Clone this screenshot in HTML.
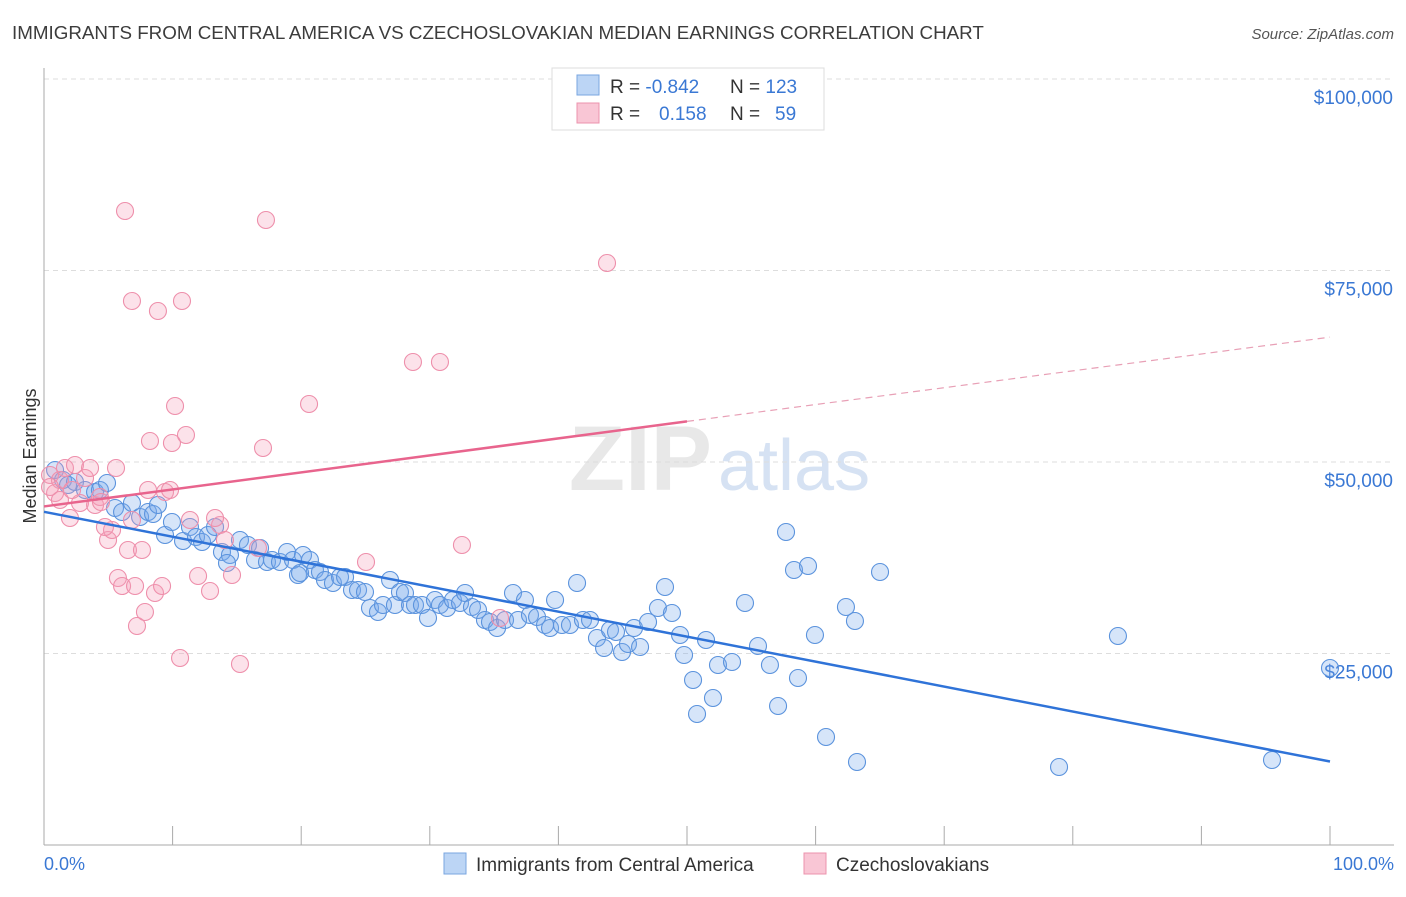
<!DOCTYPE html>
<html><head><meta charset="utf-8"><style>
body{margin:0;background:#fff;font-family:"Liberation Sans",sans-serif;}
svg text{font-family:"Liberation Sans",sans-serif;}
</style></head><body>
<svg width="1406" height="892">
<text x="12" y="39" font-size="18.8" fill="#3c3c3c">IMMIGRANTS FROM CENTRAL AMERICA VS CZECHOSLOVAKIAN MEDIAN EARNINGS CORRELATION CHART</text>
<text x="1394" y="39" font-size="15" fill="#555" font-style="italic" text-anchor="end">Source: ZipAtlas.com</text>
<text x="712" y="490" font-size="92" fill="#e8e8e8" font-family="Liberation Serif" font-weight="bold" text-anchor="end">ZIP</text>
<text x="718" y="490" font-size="72" fill="#d6e2f3">atlas</text>
<g id="grid"></g>
<line x1="44" y1="68" x2="44" y2="845" stroke="#aaa"/>
<line x1="44" y1="845" x2="1394" y2="845" stroke="#aaa"/>
<g id="xticks"></g>
<text x="36" y="456" font-size="18" fill="#333" transform="rotate(-90 36 456)" text-anchor="middle">Median Earnings</text>
<text x="44" y="870" font-size="18" fill="#3a78d4">0.0%</text>
<text x="1394" y="870" font-size="18" fill="#3a78d4" text-anchor="end">100.0%</text>
<g id="pts"></g>
<g id="lines"></g>
<g>
<rect x="552" y="68" width="272" height="62" fill="#fff" stroke="#ddd"/>
<rect x="577" y="75" width="22" height="20" fill="#bcd5f5" stroke="#7aa6e0"/>
<rect x="577" y="103" width="22" height="20" fill="#f9c6d5" stroke="#ec93ad"/>
<text x="610" y="93" font-size="19" fill="#333">R = <tspan fill="#3a78d4">-0.842</tspan><tspan x="730">N = </tspan><tspan fill="#3a78d4">123</tspan></text>
<text x="610" y="120" font-size="19" fill="#333">R = <tspan x="659" fill="#3a78d4">0.158</tspan><tspan x="730">N = </tspan><tspan x="775" fill="#3a78d4">59</tspan></text>
</g>
<g>
<rect x="444" y="853" width="22" height="21" fill="#bcd5f5" stroke="#7aa6e0"/>
<text x="476" y="871" font-size="19" fill="#333">Immigrants from Central America</text>
<rect x="804" y="853" width="22" height="21" fill="#f9c6d5" stroke="#ec93ad"/>
<text x="836" y="871" font-size="19" fill="#333">Czechoslovakians</text>
</g>
</svg>
<script>
const yTicks=[25000,50000,75000,100000];
const yTickLabels=["$25,000","$50,000","$75,000","$100,000"];
const bluePx=[[55,470],[63,480],[68,485],[75,482],[85,490],[95,492],[100,490],[107,483],[115,508],[122,512],[132,503],[140,517],[148,512],[153,514],[158,505],[165,535],[172,522],[183,541],[190,527],[196,537],[202,542],[208,535],[215,527],[222,552],[230,555],[240,540],[248,545],[255,560],[260,548],[267,562],[272,560],[280,562],[287,552],[293,560],[298,575],[303,555],[310,560],[315,570],[320,572],[325,580],[333,583],[340,577],[345,577],[352,590],[358,590],[365,592],[370,608],[378,612],[383,605],[390,580],[395,605],[400,592],[405,593],[410,605],[415,605],[422,605],[428,618],[435,600],[440,605],[447,608],[453,600],[460,603],[465,593],[472,607],[478,610],[485,620],[490,622],[497,628],[505,620],[513,593],[518,620],[525,600],[530,615],[537,617],[545,625],[550,628],[555,600],[562,625],[570,625],[577,583],[583,620],[590,620],[597,638],[604,648],[610,630],[616,632],[622,652],[628,644],[634,628],[640,647],[648,622],[658,608],[665,587],[672,613],[680,635],[684,655],[693,680],[697,714],[706,640],[713,698],[718,665],[732,662],[745,603],[758,646],[770,665],[778,706],[786,532],[794,570],[798,678],[808,566],[815,635],[826,737],[846,607],[855,621],[857,762],[880,572],[1059,767],[1118,636],[1272,760],[1330,668],[300,573],[227,563]];
const pinkPx=[[50,475],[55,493],[60,480],[65,468],[70,518],[75,465],[80,503],[85,478],[90,468],[95,505],[100,497],[108,540],[112,530],[116,468],[101,502],[118,578],[122,586],[128,550],[125,211],[132,301],[135,586],[137,626],[142,550],[145,612],[148,490],[150,441],[155,593],[158,311],[162,586],[165,492],[170,490],[172,443],[175,406],[180,658],[182,301],[186,435],[190,520],[198,576],[210,591],[220,525],[225,540],[232,575],[240,664],[258,548],[263,448],[266,220],[309,404],[366,562],[413,362],[440,362],[462,545],[500,618],[607,263],[50,487],[60,500],[105,527],[215,518],[132,520],[72,490]];
const toData=p=>[+((p[0]-44)/12.86).toFixed(2),Math.round(50000-(p[1]-462)*25000/191.5)];
const blueX=bluePx.map(p=>toData(p)[0]), blueY=bluePx.map(p=>toData(p)[1]);
const pinkX=pinkPx.map(p=>toData(p)[0]), pinkY=pinkPx.map(p=>toData(p)[1]);
const blueTrend=[43500,10900];
const pinkTrend=[44200,55300,66300];
const NS="http://www.w3.org/2000/svg";
const X=v=>44+v*12.86, Y=v=>462-(v-50000)*191.5/25000;
function mk(t,a,par){const e=document.createElementNS(NS,t);for(const k in a)e.setAttribute(k,a[k]);document.getElementById(par).appendChild(e);return e;}
yTicks.forEach((t,i)=>{
 const l=mk('line',{x1:44,x2:1394,y1:Y(t),y2:Y(t),stroke:'#ddd','stroke-dasharray':'5,4'},'grid');
 
 
 const tx=mk('text',{x:1393,y:Y(t)+25,'font-size':19,fill:'#3a78d4','text-anchor':'end'},'grid');
 tx.textContent=yTickLabels[i];
 
 
});
for(let i=0;i<=10;i++){
 const l=mk('line',{x1:X(i*10),x2:X(i*10),y1:826,y2:845,stroke:'#aaa'},'xticks');
 
 
}
blueX.forEach((x,i)=>{
 const c=mk('circle',{cx:X(x),cy:Y(blueY[i]),r:8.5,fill:'rgba(120,170,235,0.3)',stroke:'#5b93dd','stroke-width':1.1},'pts');
 
 
});
pinkX.forEach((x,i)=>{
 const c=mk('circle',{cx:X(x),cy:Y(pinkY[i]),r:8.5,fill:'rgba(245,160,185,0.3)',stroke:'#ee8fab','stroke-width':1.1},'pts');
 
 
});
let l=mk('line',{x1:X(0),y1:Y(blueTrend[0]),x2:X(100),y2:Y(blueTrend[1]),stroke:'#2f73d8','stroke-width':2.5},'lines');


l=mk('line',{x1:X(0),y1:Y(pinkTrend[0]),x2:X(50),y2:Y(pinkTrend[1]),stroke:'#e8648d','stroke-width':2.5},'lines');


l=mk('line',{x1:X(50),y1:Y(pinkTrend[1]),x2:X(100),y2:Y(pinkTrend[2]),stroke:'#e8a0b6','stroke-width':1.2,'stroke-dasharray':'7,5'},'lines');


</script>
</body></html>
